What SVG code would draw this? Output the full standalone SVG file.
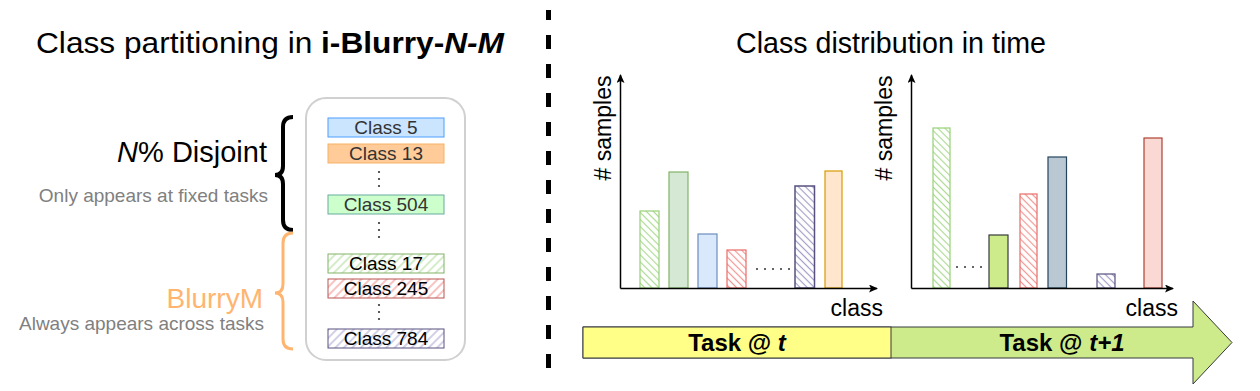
<svg xmlns="http://www.w3.org/2000/svg" width="1260" height="391" viewBox="0 0 1260 391">
<style>
text{font-family:"Liberation Sans",Arial,sans-serif}
.title{font-size:29px;fill:#000}
.cls{font-size:19px;text-anchor:middle}
.dk{fill:#333}
.blk{fill:#000}
.sub{font-size:19px;fill:#808080;text-anchor:end}
.axis{stroke:#000;stroke-width:1.5;fill:none}
.lbl{font-size:23px;fill:#000}
.task{font-size:24px;font-weight:bold;text-anchor:middle;fill:#000}
.dot{fill:#333}
</style>
<defs>
<marker id="ah" markerWidth="10" markerHeight="8" refX="8" refY="4" orient="auto" markerUnits="userSpaceOnUse">
<path d="M0,0 L9,4 L0,8 L2,4 Z" fill="#000"/>
</marker>
<pattern id="cG" width="5" height="5" patternUnits="userSpaceOnUse" patternTransform="rotate(-45)"><line x1="2.5" y1="0" x2="2.5" y2="5" stroke="#97d077" stroke-width="1.2" opacity="0.8"/></pattern>
<pattern id="cR" width="5" height="5" patternUnits="userSpaceOnUse" patternTransform="rotate(-45)"><line x1="2.5" y1="0" x2="2.5" y2="5" stroke="#ea6b66" stroke-width="1.2" opacity="0.7"/></pattern>
<pattern id="cP" width="5" height="5" patternUnits="userSpaceOnUse" patternTransform="rotate(-45)"><line x1="2.5" y1="0" x2="2.5" y2="5" stroke="#8a86b8" stroke-width="1.2" opacity="0.8"/></pattern>
<pattern id="lG" width="6" height="6" patternUnits="userSpaceOnUse" patternTransform="rotate(45)"><line x1="3" y1="0" x2="3" y2="6" stroke="#b9e0a5" stroke-width="1.2"/></pattern>
<pattern id="lR" width="6" height="6" patternUnits="userSpaceOnUse" patternTransform="rotate(45)"><line x1="3" y1="0" x2="3" y2="6" stroke="#f19c99" stroke-width="1.2"/></pattern>
<pattern id="lP" width="6" height="6" patternUnits="userSpaceOnUse" patternTransform="rotate(45)"><line x1="3" y1="0" x2="3" y2="6" stroke="#b3b0d6" stroke-width="1.2"/></pattern>
</defs>

<!-- titles -->
<text class="title" x="36" y="53" textLength="468" lengthAdjust="spacingAndGlyphs">Class partitioning in <tspan font-weight="bold">i-Blurry-</tspan><tspan font-weight="bold" font-style="italic">N-M</tspan></text>
<text class="title" x="736" y="53" textLength="310" lengthAdjust="spacingAndGlyphs">Class distribution in time</text>

<!-- divider -->
<line x1="548.5" y1="10" x2="548.5" y2="370" stroke="#000" stroke-width="5" stroke-dasharray="14 15" stroke-dashoffset="4"/>

<!-- left panel labels -->
<g id="disjoint-label">
<text x="267" y="162" font-size="29" text-anchor="end" fill="#000"><tspan font-style="italic">N</tspan>% Disjoint</text>
<text class="sub" x="268" y="202">Only appears at fixed tasks</text>
</g>
<g id="blurry-label">
<text x="263" y="308" font-size="28" text-anchor="end" fill="#ffb570">BlurryM</text>
<text class="sub" x="264" y="330">Always appears across tasks</text>
</g>

<!-- braces -->
<g id="braces" fill="none">
<path d="M293,117 Q283,117 283,127 L283,166 Q283,175 275,175 Q283,175 283,184 L283,220 Q283,230 293,230" stroke="#000" stroke-width="4"/>
<path d="M293,233 Q283,233 283,243 L283,284 Q283,293 275,293 Q283,293 283,302 L283,339 Q283,349 293,349" stroke="#ffb570" stroke-width="3"/>
</g>

<!-- class container -->
<g id="class-list">
<rect x="306" y="98" width="159" height="262" rx="20" fill="#fff" stroke="#d0d0d0" stroke-width="2"/>
<g id="class5"><rect x="328" y="118" width="116" height="19" fill="#cce5ff" stroke="#4a9eff"/><text class="cls dk" x="386" y="134">Class 5</text></g>
<g id="class13"><rect x="328" y="144" width="116" height="19" fill="#ffcc99" stroke="#f5b266"/><text class="cls dk" x="386" y="160">Class 13</text></g>
<circle class="dot" cx="379" cy="172" r="1.1"/><circle class="dot" cx="379" cy="179" r="1.1"/><circle class="dot" cx="379" cy="186" r="1.1"/>
<g id="class504"><rect x="328" y="195" width="116" height="19" fill="#ccffcc" stroke="#67ab9f"/><text class="cls dk" x="386" y="211">Class 504</text></g>
<circle class="dot" cx="379" cy="223" r="1.1"/><circle class="dot" cx="379" cy="230" r="1.1"/><circle class="dot" cx="379" cy="237" r="1.1"/>
<g id="class17"><rect x="328" y="254" width="116" height="19" fill="url(#lG)" stroke="#82b366"/><text class="cls blk" x="386" y="270">Class 17</text></g>
<g id="class245"><rect x="328" y="279" width="116" height="19" fill="url(#lR)" stroke="#b85450"/><text class="cls blk" x="386" y="295">Class 245</text></g>
<circle class="dot" cx="379" cy="305" r="1.1"/><circle class="dot" cx="379" cy="312" r="1.1"/><circle class="dot" cx="379" cy="319" r="1.1"/>
<g id="class784"><rect x="328" y="329" width="116" height="19" fill="url(#lP)" stroke="#56517e"/><text class="cls blk" x="386" y="345">Class 784</text></g>
</g>

<!-- chart 1 -->
<g id="chart1">
<g id="chart1-bars">
<rect x="640" y="211" width="19" height="77" fill="url(#cG)" stroke="#97d077" stroke-width="1.2"/>
<rect x="669" y="172" width="19" height="116" fill="#d5e8d4" stroke="#82b366" stroke-width="1.2"/>
<rect x="698" y="234" width="19" height="54" fill="#dae8fc" stroke="#6c8ebf" stroke-width="1.2"/>
<rect x="727" y="250" width="19" height="38" fill="url(#cR)" stroke="#ea6b66" stroke-width="1.2"/>
<rect x="795" y="186" width="19.5" height="102" fill="url(#cP)" stroke="#56517e" stroke-width="1.5"/>
<rect x="825" y="171" width="17" height="117" fill="#ffe6cc" stroke="#d79b00" stroke-width="1.2"/>
</g>
<g class="dot">
<circle cx="757" cy="269" r="1"/><circle cx="765" cy="269" r="1"/><circle cx="773" cy="269" r="1"/><circle cx="781" cy="269" r="1"/><circle cx="789" cy="269" r="1"/>
</g>
<text class="lbl" transform="translate(611,128) rotate(-90)" text-anchor="middle"># samples</text>
<text class="lbl" x="883" y="316" text-anchor="end">class</text>
</g>

<!-- chart 2 -->
<g id="chart2">
<g id="chart2-bars">
<rect x="933" y="128" width="17" height="160" fill="url(#cG)" stroke="#97d077" stroke-width="1.2"/>
<rect x="989" y="235" width="19" height="53" fill="#cdeb8b" stroke="#36393d" stroke-width="1.2"/>
<rect x="1020" y="194" width="17" height="94" fill="url(#cR)" stroke="#ea6b66" stroke-width="1.2"/>
<rect x="1048" y="157" width="18.5" height="131" fill="#bac8d3" stroke="#23445d" stroke-width="1.2"/>
<rect x="1097" y="274" width="18" height="14" fill="url(#cP)" stroke="#56517e" stroke-width="1.2"/>
<rect x="1144" y="138" width="18" height="150" fill="#fad9d5" stroke="#ae4132" stroke-width="1.2"/>
</g>
<g class="dot">
<circle cx="957" cy="267" r="1"/><circle cx="965" cy="267" r="1"/><circle cx="973" cy="267" r="1"/><circle cx="981" cy="267" r="1"/>
</g>
<text class="lbl" transform="translate(892,128) rotate(-90)" text-anchor="middle"># samples</text>
<text class="lbl" x="1178" y="316" text-anchor="end">class</text>
</g>

<!-- connectors (axes) -->
<g id="connectors" class="axis">
<line x1="620.5" y1="288.5" x2="620.5" y2="75" marker-end="url(#ah)"/>
<line x1="620.5" y1="288.5" x2="877" y2="288.5" marker-end="url(#ah)"/>
<line x1="911.5" y1="288.5" x2="911.5" y2="75" marker-end="url(#ah)"/>
<line x1="911.5" y1="288.5" x2="1173" y2="288.5" marker-end="url(#ah)"/>
</g>

<!-- timeline -->
<g id="task-t1">
<path d="M583,327 L1193,327 L1193,301 L1232,342.5 L1193,384 L1193,358 L583,358 Z" fill="#cdeb8b" stroke="#36393d" stroke-width="1"/>
<text class="task" x="1062" y="351">Task @ <tspan font-style="italic">t+1</tspan></text>
</g>
<g id="task-t">
<rect x="583" y="327" width="308" height="31" fill="#ffff88" stroke="#36393d" stroke-width="1"/>
<text class="task" x="737" y="351">Task @ <tspan font-style="italic">t</tspan></text>
</g>
</svg>
